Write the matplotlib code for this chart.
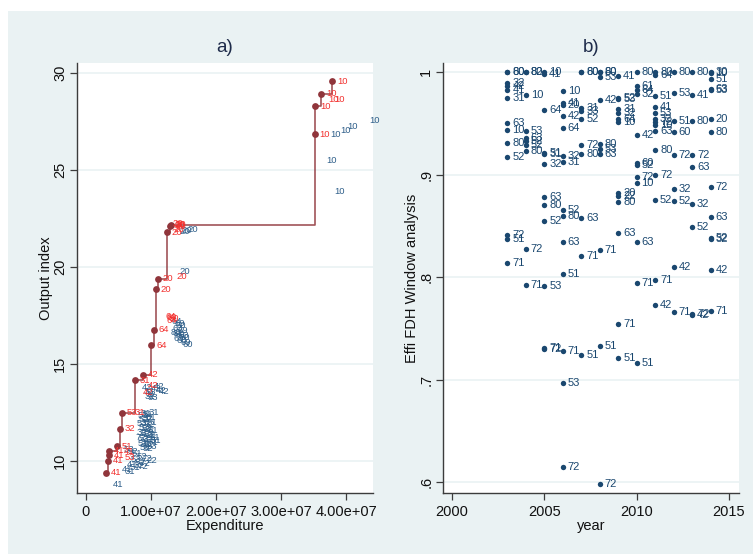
import matplotlib.pyplot as plt
from matplotlib.patches import Rectangle
from matplotlib.ticker import FuncFormatter

plt.rcParams["font.family"] = ["Liberation Sans", "DejaVu Sans"]

# ---- panel a: FDH frontier, expenditure vs output index ----
front_exp = [0.312e7, 0.343e7, 0.349e7, 0.359e7, 0.482e7, 0.518e7, 0.549e7, 0.749e7,
             0.882e7, 1.005e7, 1.041e7, 1.077e7, 1.103e7, 1.246e7, 1.288e7, 1.308e7,
             3.52e7, 3.53e7, 3.62e7, 3.79e7]
front_out = [9.37, 9.99, 10.28, 10.51, 10.73, 11.64, 12.46, 14.13,
             14.41, 15.94, 16.73, 18.84, 19.37, 21.76, 22.10, 22.15,
             26.83, 28.27, 28.91, 29.56]
front_lab = ["41", "41", "41", "41", "51", "32", "53", "31",
             "42", "64", "64", "20", "20", "20", "20", "20",
             "10", "10", "10", "10"]

# efficient units without a frontier marker
eff_exp = [3.646e7, 3.74e7, 1.25e7, 1.28e7, 1.30e7, 1.27e7, 1.32e7,
           1.15e7, 1.17e7, 1.19e7, 1.16e7, 0.88e7, 0.80e7, 0.68e7, 0.52e7, 0.50e7]
eff_out = [28.63, 28.60, 22.20, 22.15, 22.05, 21.90, 19.50,
           17.44, 17.35, 17.30, 17.20, 13.88, 13.53, 12.46, 10.13, 10.45]
eff_lab = ["10", "10", "20", "20", "20", "20", "20",
           "64", "60", "80", "64", "42", "42", "31", "53", "41"]

# inefficient units
ineff_exp = [3.69e7, 3.83e7, 3.95e7, 4.29e7, 3.62e7, 3.75e7,
             1.49e7, 1.36e7, 1.40e7, 1.37e7,
             1.24e7, 1.28e7, 1.31e7, 1.26e7, 1.33e7, 1.22e7, 1.29e7, 1.35e7,
             1.27e7, 1.32e7, 1.38e7, 1.41e7, 1.36e7, 1.25e7,
             0.78e7, 0.81e7, 0.85e7, 0.92e7, 0.97e7, 1.00e7, 1.04e7, 0.83e7, 0.88e7,
             0.72e7, 0.76e7, 0.80e7, 0.74e7, 0.79e7, 0.84e7, 0.70e7, 0.77e7, 0.82e7,
             0.86e7, 0.73e7, 0.78e7, 0.83e7, 0.88e7, 0.71e7, 0.76e7, 0.81e7, 0.86e7,
             0.90e7, 0.74e7, 0.79e7, 0.84e7, 0.72e7, 0.77e7, 0.82e7, 0.87e7, 0.75e7,
             0.80e7, 0.69e7, 0.92e7, 0.85e7,
             0.50e7, 0.56e7, 0.63e7, 0.70e7, 0.78e7, 0.86e7, 0.62e7, 0.68e7, 0.75e7,
             0.55e7, 0.60e7, 0.48e7, 0.52e7, 0.66e7, 0.72e7,
             0.89e7, 0.34e7]
ineff_out = [26.83, 27.03, 27.24, 27.52, 25.45, 23.89,
             21.93, 21.80, 21.85, 19.72,
             17.15, 17.05, 16.95, 16.80, 16.70, 16.60, 16.50, 16.45,
             16.30, 16.20, 16.10, 15.98, 16.35, 16.55,
             13.75, 13.55, 13.40, 13.70, 13.80, 13.62, 13.55, 13.30, 13.25,
             12.30, 12.40, 12.35, 12.10, 12.15, 12.20, 11.90, 11.95, 11.85,
             11.95, 11.70, 11.65, 11.60, 11.55, 11.45, 11.40, 11.35, 11.30,
             11.20, 11.15, 11.10, 11.05, 10.90, 10.85, 10.80, 10.95, 10.65,
             10.60, 11.20, 11.05, 10.70,
             10.55, 10.45, 10.35, 10.20, 10.10, 9.98, 10.05, 9.90, 9.85,
             9.80, 9.65, 9.55, 9.45, 9.75, 9.70,
             12.46, 8.74]
ineff_lab = ["10", "10", "10", "10", "10", "10",
             "20", "20", "20", "20",
             "64", "69", "60", "63", "69", "80", "60", "63",
             "69", "60", "69", "60", "80", "64",
             "42", "33", "32", "42", "42", "42", "42", "32", "33",
             "53", "31", "51", "52", "32", "51", "53", "31", "32",
             "51", "52", "53", "31", "51", "32", "52", "53", "31",
             "51", "52", "32", "53", "51", "31", "52", "71", "53",
             "32", "72", "51", "63",
             "53", "52", "51", "52", "72", "22", "53", "52", "72",
             "41", "51", "41", "31", "32", "72",
             "31", "41"]

# ---- panel b: window-analysis efficiency by year ----
year_b = ([2003] * 13 + [2004] * 10 + [2005] * 12 + [2006] * 14 + [2007] * 10 +
          [2008] * 10 + [2009] * 13 + [2010] * 12 + [2011] * 14 + [2012] * 9 +
          [2013] * 9 + [2014] * 13)
effi_b = [1.0, 1.0, 0.9896, 0.9866, 0.9824, 0.975, 0.950, 0.943, 0.931, 0.917, 0.841, 0.837, 0.814,
          1.0, 1.0, 0.978, 0.942, 0.936, 0.933, 0.929, 0.923, 0.827, 0.792,
          1.0, 0.998, 0.963, 0.921, 0.920, 0.910, 0.878, 0.870, 0.855, 0.791, 0.730, 0.731,
          0.9815, 0.970, 0.968, 0.957, 0.945, 0.918, 0.912, 0.865, 0.860, 0.834, 0.803, 0.728, 0.697, 0.615,
          1.0, 1.0, 0.965, 0.962, 0.954, 0.929, 0.920, 0.858, 0.821, 0.724,
          1.0, 1.0, 0.995, 0.973, 0.930, 0.925, 0.920, 0.826, 0.733, 0.598,
          0.996, 0.975, 0.974, 0.964, 0.960, 0.954, 0.951, 0.882, 0.879, 0.873, 0.843, 0.754, 0.721,
          1.0, 0.986, 0.982, 0.979, 0.9385, 0.911, 0.909, 0.898, 0.892, 0.834, 0.794, 0.716,
          1.0, 0.997, 0.977, 0.966, 0.960, 0.954, 0.951, 0.948, 0.942, 0.924, 0.900, 0.875, 0.797, 0.773,
          1.0, 0.980, 0.952, 0.941, 0.919, 0.886, 0.874, 0.810, 0.766,
          1.0, 0.978, 0.952, 0.919, 0.907, 0.871, 0.849, 0.764, 0.763,
          1.0, 0.999, 0.993, 0.983, 0.982, 0.954, 0.941, 0.888, 0.859, 0.838, 0.837, 0.807, 0.767]
lab_b = ["80", "60", "32", "42", "41", "31", "63", "10", "80", "52", "72", "51", "71",
         "82", "80", "10", "53", "63", "52", "52", "80", "72", "71",
         "10", "41", "64", "51", "31", "32", "63", "80", "52", "53", "72", "71",
         "10", "41", "20", "42", "64", "32", "31", "52", "80", "63", "51", "71", "53", "72",
         "80", "60", "31", "33", "52", "72", "80", "63", "71", "51",
         "80", "60", "53", "42", "80", "53", "63", "71", "51", "72",
         "41", "52", "53", "31", "32", "64", "10", "20", "22", "80", "63", "71", "51",
         "80", "61", "64", "32", "42", "60", "52", "72", "10", "63", "71", "51",
         "80", "64", "51", "41", "53", "32", "72", "10", "63", "80", "72", "52", "71", "42",
         "80", "53", "51", "60", "72", "32", "52", "42", "71",
         "80", "41", "80", "72", "63", "32", "52", "72", "42",
         "30", "10", "51", "63", "53", "20", "80", "72", "63", "52", "32", "42", "71"]

NAVY = "#1A476F"
MAROON = "#90353B"
RED = "#F2312F"
BG = "#EAF2F3"
AXC = "#3C3C3C"


def style(ax):
    ax.set_facecolor("white")
    for s in ["top", "right"]:
        ax.spines[s].set_visible(False)
    for s in ["left", "bottom"]:
        ax.spines[s].set_color(AXC)
        ax.spines[s].set_linewidth(1.0)
    ax.tick_params(direction="out", length=5, width=0.9, color=AXC,
                   labelsize=10.5, labelcolor="#111111")
    ax.tick_params(axis="y", labelrotation=90, pad=2)
    for t in ax.get_yticklabels():
        t.set_va("center")
    ax.grid(axis="y", color=BG, linewidth=1.2)
    ax.set_axisbelow(True)


def labels(ax, xs, ys, labs, color, size):
    for x, y, t in zip(xs, ys, labs):
        ax.annotate(t, (x, y), xytext=(3.5, 0), textcoords="offset points",
                    ha="left", va="center", fontsize=size, color=color)


fig = plt.figure(figsize=(7.53, 5.54), dpi=100, facecolor="white")
fig.patches.append(Rectangle((8 / 753, 0), 1, 1 - 11 / 554, transform=fig.transFigure,
                             facecolor=BG, edgecolor="none", zorder=-10))

# panel a
ax1 = fig.add_axes([77 / 753, 61 / 554, 296 / 753, 430 / 554])
ax1.step(front_exp, front_out, where="post", color=MAROON, lw=1.2, alpha=0.85, zorder=2)
ax1.scatter(front_exp, front_out, s=24, color=MAROON, zorder=3, linewidths=0)
labels(ax1, ineff_exp, ineff_out, ineff_lab, "#2F5F8A", 6.8)
labels(ax1, eff_exp, eff_out, eff_lab, RED, 6.8)
labels(ax1, front_exp, front_out, front_lab, RED, 6.8)
ax1.set_xlim(-0.138e7, 4.415e7)
ax1.set_ylim(8.325, 30.49)
ax1.set_xticks([0, 1e7, 2e7, 3e7, 4e7])
ax1.xaxis.set_major_formatter(FuncFormatter(lambda v, p: "0" if v == 0 else "%.2e" % v))
ax1.set_yticks([10, 15, 20, 25, 30])
style(ax1)
ax1.set_xlabel("Expenditure", fontsize=10.5, color="#111111", labelpad=0)
ax1.set_ylabel("Output index", fontsize=10.5, color="#111111", labelpad=0)
ax1.set_title("a)", fontsize=13.5, color="#1E2B4A", pad=8)

# panel b
ax2 = fig.add_axes([443 / 753, 61 / 554, 296 / 753, 430 / 554])
ax2.scatter(year_b, effi_b, s=15, color=NAVY, zorder=3, linewidths=0)
labels(ax2, year_b, effi_b, lab_b, NAVY, 8)
ax2.set_xlim(1999.51, 2015.54)
ax2.set_ylim(0.5893, 1.0088)
ax2.set_xticks([2000, 2005, 2010, 2015])
ax2.set_yticks([0.6, 0.7, 0.8, 0.9, 1.0])
ax2.set_yticklabels([".6", ".7", ".8", ".9", "1"])
style(ax2)
ax2.set_xlabel("year", fontsize=10.5, color="#111111", labelpad=0)
ax2.set_ylabel("Effi FDH Window analysis", fontsize=10.5, color="#111111", labelpad=0)
ax2.set_title("b)", fontsize=13.5, color="#1E2B4A", pad=8)

fig.savefig("out.png", dpi=100, facecolor=fig.get_facecolor())
